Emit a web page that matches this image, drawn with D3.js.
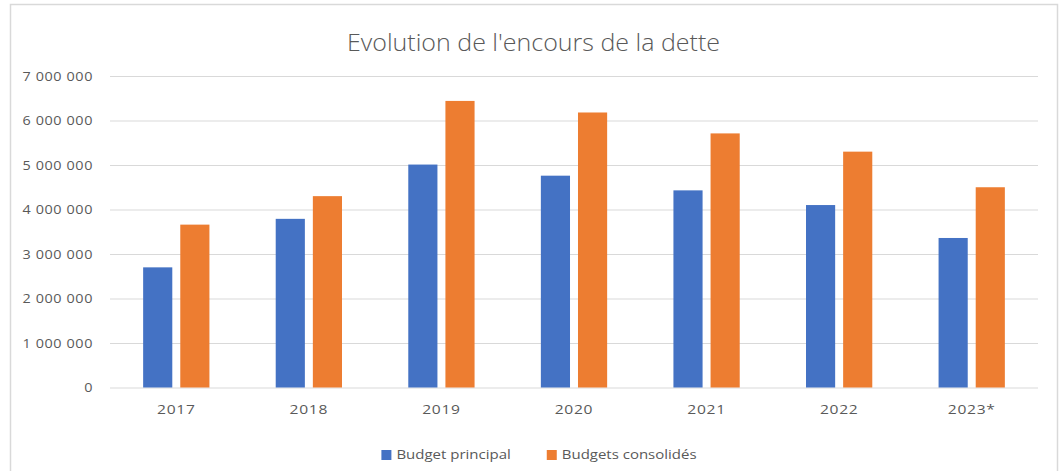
<!DOCTYPE html>
<html>
<head>
<meta charset="utf-8">
<script src="https://cdn.jsdelivr.net/npm/d3@7/dist/d3.min.js"></script>
<style>
  html, body { margin: 0; padding: 0; background: #fff; }
  svg { display: block; }
  text { font-family: "Open Sans", "Liberation Sans", sans-serif; fill: #595959; }
</style>
</head>
<body>
<svg id="chart" width="1064" height="471"></svg>
<script>
const categories = ["2017", "2018", "2019", "2020", "2021", "2022", "2023*"];
const seriesNames = ["Budget principal", "Budgets consolidés"];
const budgetPrincipal = [2700000, 3790000, 5010000, 4760000, 4430000, 4100000, 3360000];
const budgetsConsolides = [3660000, 4300000, 6440000, 6180000, 5710000, 5300000, 4500000];
const yTicks = [0, 1000000, 2000000, 3000000, 4000000, 5000000, 6000000, 7000000];
const colors = ["#4472C4", "#ED7D31"];
const titleText = "Evolution de l'encours de la dette";

const svg = d3.select("#chart");
const plot = { left: 110, right: 1038, top: 76, bottom: 387.5 };
const SX = 1.2; // horizontal stretch of the text
const textColor = "#646464";

// chart frame
svg.append("rect")
  .attr("x", 10.5).attr("y", 4.5)
  .attr("width", 1047).attr("height", 500)
  .attr("fill", "#fff").attr("stroke", "#D9D9D9").attr("stroke-width", 1.5);

// title
svg.append("text")
  .attr("x", 533.5).attr("y", 51)
  .attr("text-anchor", "middle")
  .attr("font-size", 24)
  .attr("font-weight", 300)
  .attr("fill", "#595959")
  .attr("textLength", 373)
  .attr("lengthAdjust", "spacingAndGlyphs")
  .text(titleText);

const y = d3.scaleLinear().domain([0, 7000000]).range([plot.bottom, plot.top]);
const x0 = d3.scaleBand().domain(categories).range([plot.left, plot.right])
  .paddingInner(0.5).paddingOuter(0.25);
const x1 = d3.scaleBand().domain(seriesNames).range([0, x0.bandwidth()])
  .paddingInner(0.215).paddingOuter(0);

const locale = d3.formatLocale({ decimal: ",", thousands: " ", grouping: [3], currency: ["", " €"] });
const fmt = locale.format(",d");

// y axis with gridlines
const yAxis = svg.append("g")
  .attr("transform", `translate(${plot.left},0)`)
  .call(d3.axisLeft(y).tickValues(yTicks).tickFormat(fmt)
    .tickSize(-(plot.right - plot.left)).tickPadding(17));
yAxis.attr("font-family", null);
yAxis.select(".domain").remove();
yAxis.selectAll(".tick line").attr("stroke", "#D9D9D9").attr("stroke-width", 1);
yAxis.selectAll(".tick text")
  .attr("font-size", 12)
  .attr("fill", textColor)
  .attr("letter-spacing", 0.5)
  .attr("x", -17 / SX)
  .attr("dy", "0.35em")
  .attr("transform", `scale(${SX},1)`);

// bars
const groups = svg.append("g").selectAll("g")
  .data(categories)
  .join("g")
  .attr("transform", d => `translate(${x0(d)},0)`);

groups.selectAll("rect")
  .data((d, i) => [
    { s: seriesNames[0], v: budgetPrincipal[i], c: colors[0] },
    { s: seriesNames[1], v: budgetsConsolides[i], c: colors[1] }
  ])
  .join("rect")
  .attr("x", d => x1(d.s))
  .attr("width", x1.bandwidth())
  .attr("y", d => y(d.v))
  .attr("height", d => y(0) - y(d.v))
  .attr("fill", d => d.c);

// x axis labels
const xAxis = svg.append("g")
  .attr("transform", `translate(0,${plot.bottom})`)
  .call(d3.axisBottom(x0).tickSize(0).tickPadding(0));
xAxis.select(".domain").remove();
xAxis.attr("font-family", null);
xAxis.selectAll(".tick text")
  .attr("font-size", 13)
  .attr("fill", textColor)
  .attr("letter-spacing", 0.6)
  .attr("y", 27)
  .attr("dy", 0)
  .attr("transform", `scale(${SX},1)`);

// legend
const legend = svg.append("g");
let lx = 0;
seriesNames.forEach((name, i) => {
  const g = legend.append("g").attr("transform", `translate(${lx},0)`);
  g.append("rect").attr("x", 0).attr("y", -5).attr("width", 10).attr("height", 10).attr("fill", colors[i]);
  const t = g.append("text")
    .attr("x", 15 / SX).attr("dy", "0.35em")
    .attr("font-size", 12.5)
    .attr("fill", textColor)
    .attr("transform", `scale(${SX},1)`)
    .text(name);
  const w = 15 + t.node().getComputedTextLength() * SX;
  lx += w + 36;
});
const legendWidth = lx - 36;
legend.attr("transform", `translate(${539 - legendWidth / 2},455)`);
</script>
</body>
</html>
